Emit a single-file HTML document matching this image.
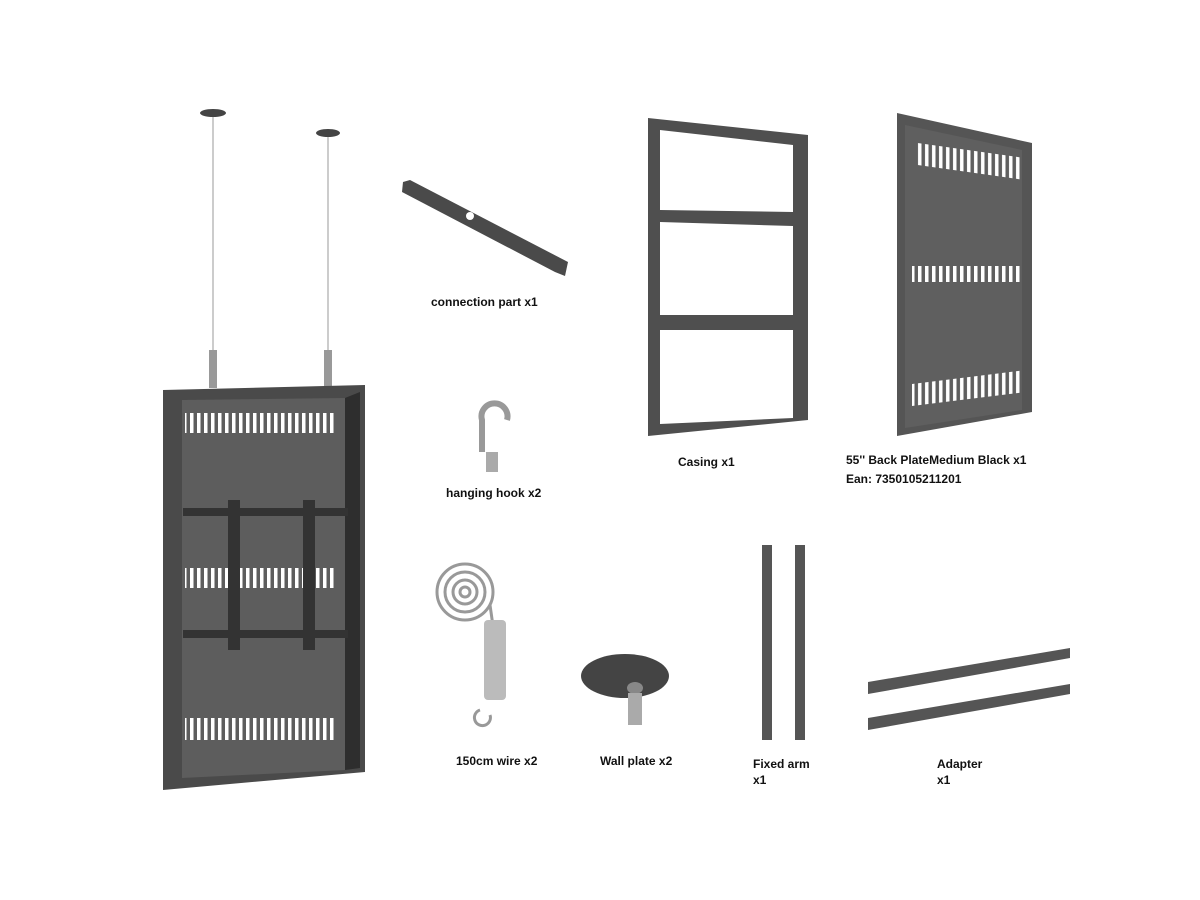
<!DOCTYPE html>
<html><head><meta charset="utf-8"><style>
html,body{margin:0;padding:0;background:#fff;}
svg{display:block}
text{font-family:"Liberation Sans",sans-serif;font-weight:bold;font-size:12px;fill:#111}
</style></head><body>
<svg width="1200" height="900" viewBox="0 0 1200 900" xmlns="http://www.w3.org/2000/svg">
<defs>
<pattern id="vent" width="7" height="20" patternUnits="userSpaceOnUse"><rect x="1" y="0" width="3.5" height="20" fill="#fff"/></pattern>
</defs>
<!-- ceiling plates + wires -->
<ellipse cx="213" cy="113" rx="13" ry="4" fill="#444"/>
<ellipse cx="328" cy="133" rx="12" ry="4" fill="#444"/>
<line x1="213" y1="117" x2="213" y2="355" stroke="#bbb" stroke-width="1.5"/>
<line x1="328" y1="137" x2="328" y2="355" stroke="#bbb" stroke-width="1.5"/>
<rect x="209" y="350" width="8" height="38" fill="#999"/>
<rect x="324" y="350" width="8" height="38" fill="#999"/>
<!-- hanging display -->
<polygon points="163,390 365,385 365,772 163,790" fill="#4a4a4a"/>
<polygon points="182,400 345,398 345,770 182,778" fill="#5d5d5d"/>
<polygon points="345,398 360,392 360,768 345,770" fill="#2e2e2e"/>
<rect x="185" y="413" width="152" height="20" fill="url(#vent)"/>
<rect x="185" y="568" width="152" height="20" fill="url(#vent)"/>
<rect x="185" y="718" width="152" height="22" fill="url(#vent)"/>
<rect x="183" y="508" width="165" height="8" fill="#333"/>
<rect x="183" y="630" width="165" height="8" fill="#333"/>
<rect x="228" y="500" width="12" height="150" fill="#333"/>
<rect x="303" y="500" width="12" height="150" fill="#333"/>
<!-- connection part -->
<polygon points="403,182 410,180 568,262 565,276 555,272 402,192" fill="#4a4a4a"/>
<circle cx="470" cy="216" r="4" fill="#fff"/>
<text x="431" y="306">connection part x1</text>
<!-- hook -->
<path d="M482,452 L482,420 A13,13 0 1 1 507,420" fill="none" stroke="#999" stroke-width="6"/>
<rect x="486" y="452" width="12" height="20" fill="#aaa"/>
<text x="446" y="497">hanging hook x2</text>
<!-- casing -->
<polygon points="648,118 808,135 808,420 648,436" fill="#4f4f4f"/>
<polygon points="660,130 793,145 793,212 660,210" fill="#fff"/>
<polygon points="660,222 793,226 793,315 660,315" fill="#fff"/>
<polygon points="660,330 793,330 793,418 660,424" fill="#fff"/>
<text x="678" y="466">Casing x1</text>
<!-- back plate -->
<polygon points="897,113 1032,143 1032,412 897,436" fill="#555"/>
<polygon points="905,125 1022,150 1022,410 905,428" fill="#5f5f5f"/>
<rect x="915" y="142" width="105" height="22" fill="url(#vent)" transform="skewY(8) translate(0,-128)"/>
<rect x="912" y="266" width="108" height="16" fill="url(#vent)"/>
<rect x="912" y="384" width="108" height="22" fill="url(#vent)" transform="skewY(-7) translate(0,112)"/>
<text x="846" y="464">55'' Back PlateMedium Black x1</text>
<text x="846" y="483">Ean: 7350105211201</text>
<!-- wire coil -->
<g fill="none" stroke="#999" stroke-width="3">
<circle cx="465" cy="592" r="28"/><circle cx="465" cy="592" r="20"/><circle cx="465" cy="592" r="12"/><circle cx="465" cy="592" r="5"/>
<path d="M490,605 L495,640"/>
<path d="M480,710 A8,8 0 1 0 490,715"/>
</g>
<rect x="484" y="620" width="22" height="80" rx="4" fill="#bbb"/>
<text x="456" y="765">150cm wire x2</text>
<!-- wall plate -->
<ellipse cx="625" cy="676" rx="44" ry="22" fill="#444"/>
<ellipse cx="635" cy="688" rx="8" ry="6" fill="#888"/>
<rect x="628" y="693" width="14" height="32" fill="#aaa"/>
<text x="600" y="765">Wall plate x2</text>
<!-- fixed arms -->
<rect x="762" y="545" width="10" height="195" fill="#555"/>
<rect x="795" y="545" width="10" height="195" fill="#555"/>
<text x="753" y="768">Fixed arm</text>
<text x="753" y="784">x1</text>
<!-- adapter -->
<polygon points="868,682 1070,648 1070,658 868,694" fill="#555"/>
<polygon points="868,718 1070,684 1070,694 868,730" fill="#555"/>
<text x="937" y="768">Adapter</text>
<text x="937" y="784">x1</text>
</svg>
</body></html>
